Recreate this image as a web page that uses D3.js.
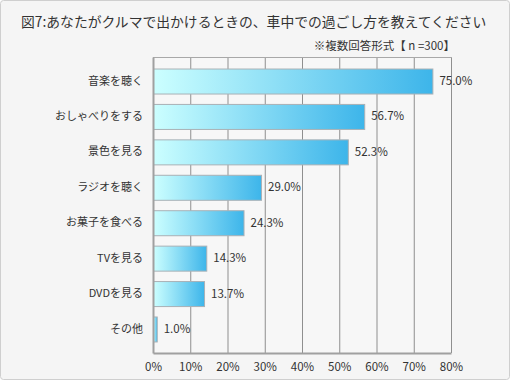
<!DOCTYPE html>
<html><head><meta charset="utf-8">
<script src="https://cdn.jsdelivr.net/npm/d3@7"></script>
<style>
html,body{margin:0;padding:0;background:#fff;}
svg{display:block;font-family:"Noto Sans CJK JP","Noto Sans",sans-serif;}
</style></head>
<body>
<script>
const titleText = "図7:あなたがクルマで出かけるときの、車中での過ごし方を教えてください";
const noteText = "※複数回答形式【 n =300】";
const categories = ["音楽を聴く","おしゃべりをする","景色を見る","ラジオを聴く","お菓子を食べる","TVを見る","DVDを見る","その他"];
const values = [75.0, 56.7, 52.3, 29.0, 24.3, 14.3, 13.7, 1.0];
const tickValues = [0,10,20,30,40,50,60,70,80];

(function(){
const W = 510, H = 380;
const svg = d3.select("body").append("svg").attr("width", W).attr("height", H);

const defs = svg.append("defs");
const grad = defs.append("linearGradient").attr("id","barGrad")
  .attr("x1","0").attr("y1","0").attr("x2","1").attr("y2","0");
grad.append("stop").attr("offset","0").attr("stop-color","#ccffff");
grad.append("stop").attr("offset","1").attr("stop-color","#3db5ea");

svg.append("rect").attr("x",0.5).attr("y",0.5).attr("width",W-1).attr("height",H-1)
  .attr("rx",3).attr("fill","#f5f5f5").attr("stroke","#cfcfcf");

svg.append("text").attr("x",21).attr("y",27).attr("font-size",13.8).attr("fill","#333")
  .text(titleText);
svg.append("text").attr("x",455).attr("y",50).attr("text-anchor","end").attr("font-size",11.5).attr("fill","#333")
  .text(noteText);

const pL = 153, pR = 451, pT = 57, pB = 353;
const x = d3.scaleLinear().domain([0,80]).range([pL,pR]);
const y = d3.scaleBand().domain(categories).range([pT,pB]).paddingInner(0.294).paddingOuter(0.325);

svg.append("rect").attr("x",pL).attr("y",pT).attr("width",pR-pL).attr("height",pB-pT)
  .attr("fill","#f7f7f7");

svg.append("g").selectAll("line").data(tickValues.slice(1)).join("line")
  .attr("x1",d=>x(d)+0.5).attr("x2",d=>x(d)+0.5).attr("y1",pT).attr("y2",pB)
  .attr("stroke","#8f8f8f").attr("stroke-width",1);
svg.append("line").attr("x1",pL).attr("x2",pR+1).attr("y1",pT+0.5).attr("y2",pT+0.5)
  .attr("stroke","#a8a8a8");

svg.append("g").selectAll("rect").data(values).join("rect")
  .attr("x",x(0)+0.5).attr("y",(d,i)=>y(categories[i])+0.5)
  .attr("width",d=>x(d)-x(0)).attr("height",y.bandwidth())
  .attr("fill","url(#barGrad)").attr("stroke","#a9b1b6").attr("stroke-width",1);

const xAxis = d3.axisBottom(x).tickValues(tickValues).tickSize(0).tickPadding(10).tickFormat(d=>d+"%");
const gx = svg.append("g").attr("transform",`translate(0,${pB})`).call(xAxis);
gx.select(".domain").attr("stroke","#a0a0a0").attr("stroke-width",2);
gx.selectAll("text").attr("font-size",11.5).attr("fill","#333").attr("font-family","\"Noto Sans CJK JP\",sans-serif");

const yAxis = d3.axisLeft(y).tickSize(0).tickPadding(10);
const gy = svg.append("g").attr("transform",`translate(${pL},0)`).call(yAxis);
gy.select(".domain").attr("stroke","#a0a0a0").attr("stroke-width",2);
gy.selectAll("text").attr("font-size",11).attr("fill","#333").attr("font-family","\"Noto Sans CJK JP\",sans-serif");

svg.append("g").selectAll("text").data(values).join("text")
  .attr("x",d=>x(d)+7).attr("y",(d,i)=>y(categories[i])+y.bandwidth()/2)
  .attr("dy","0.35em").attr("font-size",11.5).attr("fill","#333")
  .text(d=>d.toFixed(1)+"%");
})();
</script>
</body></html>
